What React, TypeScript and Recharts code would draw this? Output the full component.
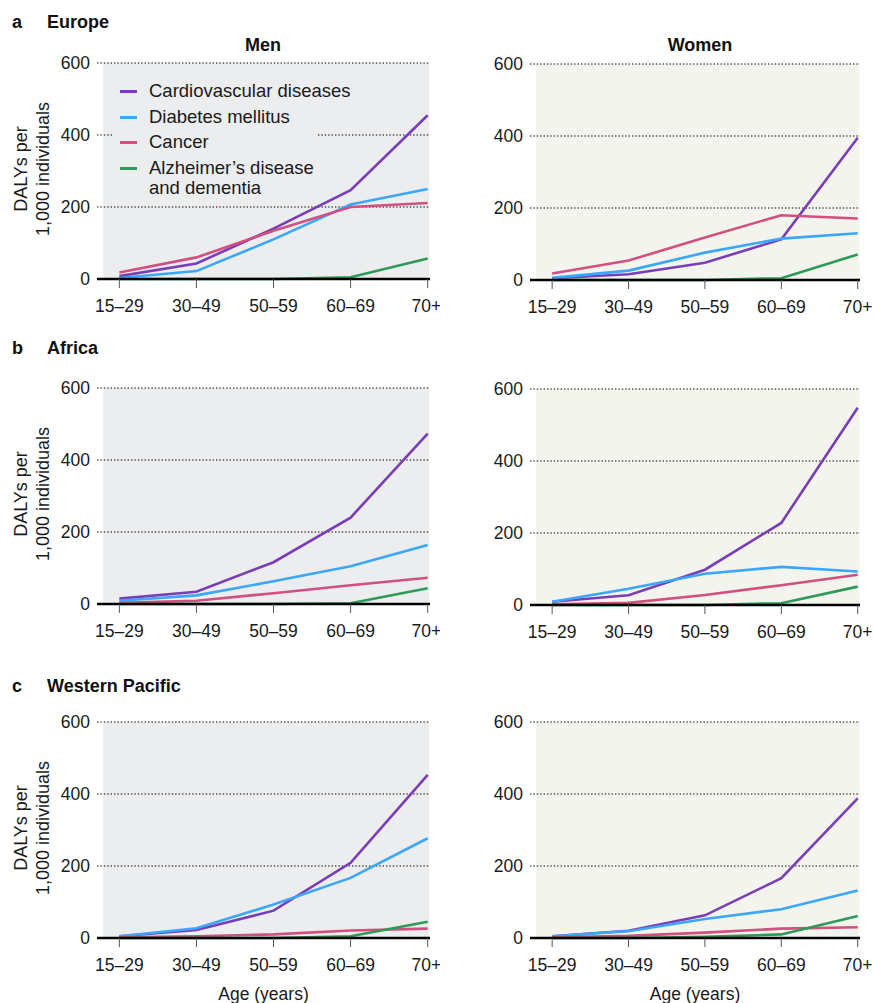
import React from 'react'
import {
  LineChart,
  Line,
  XAxis,
  YAxis,
  ReferenceArea,
  ReferenceLine,
  Legend,
} from 'recharts'

const ageGroups = ['15–29', '30–49', '50–59', '60–69', '70+']
const yTicks = [0, 200, 400, 600]
const gridValues = [200, 400, 600]

// DALYs per 1,000 individuals
const europeMen = {
  cvd: [8, 43, 140, 247, 455],
  diabetes: [3, 22, 110, 207, 250],
  cancer: [18, 60, 134, 200, 211],
  alz: [0, 0, 0, 5, 57],
}
const europeWomen = {
  cvd: [5, 16, 48, 113, 395],
  diabetes: [6, 26, 76, 115, 130],
  cancer: [18, 54, 118, 180, 171],
  alz: [0, 0, 0, 5, 71],
}
const africaMen = {
  cvd: [15, 34, 116, 240, 473],
  diabetes: [9, 24, 63, 105, 164],
  cancer: [3, 9, 30, 52, 73],
  alz: [0, 0, 0, 2, 44],
}
const africaWomen = {
  cvd: [9, 27, 98, 228, 548],
  diabetes: [9, 45, 87, 106, 93],
  cancer: [2, 6, 28, 55, 84],
  alz: [0, 0, 0, 5, 51],
}
const pacificMen = {
  cvd: [5, 22, 76, 209, 453],
  diabetes: [5, 27, 93, 167, 277],
  cancer: [2, 5, 10, 21, 26],
  alz: [0, 0, 0, 5, 45],
}
const pacificWomen = {
  cvd: [5, 20, 63, 166, 388],
  diabetes: [5, 19, 53, 80, 132],
  cancer: [2, 6, 15, 26, 30],
  alz: [0, 0, 3, 10, 61],
}

const series = [
  { key: 'cvd', name: 'Cardiovascular diseases', color: '#7a3db8' },
  { key: 'diabetes', name: 'Diabetes mellitus', color: '#3ba7fa' },
  { key: 'cancer', name: 'Cancer', color: '#d24f7e' },
  { key: 'alz', name: 'Alzheimer’s disease\nand dementia', color: '#2d9a58' },
]

const FONT = '"Liberation Sans", Arial, Helvetica, sans-serif'
const MEN_BG = '#ecedef'
const WOMEN_BG = '#f4f4ee'

type SeriesSet = { cvd: number[]; diabetes: number[]; cancer: number[]; alz: number[] }

const toRows = (s: SeriesSet) =>
  ageGroups.map((age, i) => ({
    x: i,
    age,
    cvd: s.cvd[i],
    diabetes: s.diabetes[i],
    cancer: s.cancer[i],
    alz: s.alz[i],
  }))

const LegendBox = ({ bg }: { bg: string }) => (
  <div style={{ background: bg, width: 205, fontFamily: FONT, fontSize: 18.5, color: '#1a1a1a' }}>
    {series.map((s, i) => {
      const lines = s.name.split('\n')
      return (
        <div
          key={s.key}
          style={{
            display: 'flex',
            alignItems: 'flex-start',
            marginTop: i === 3 ? 3 : 0,
          }}
        >
          <div
            style={{
              width: 17,
              height: 3,
              background: s.color,
              marginLeft: 7,
              marginRight: 12,
              marginTop: lines.length > 1 ? 9 : 12,
              flexShrink: 0,
            }}
          />
          <div style={{ lineHeight: lines.length > 1 ? '20px' : '25.7px', whiteSpace: 'nowrap' }}>
            {lines.map((l) => (
              <div key={l}>{l}</div>
            ))}
          </div>
        </div>
      )
    })}
  </div>
)

const YLabel = ({ viewBox }: any) => {
  if (!viewBox) return null
  const cy = viewBox.y + viewBox.height / 2 - 2
  return (
    <g transform={`translate(26.5, ${cy}) rotate(-90)`}>
      <text textAnchor="middle" fontSize={18} fill="#1a1a1a" fontFamily={FONT}>
        <tspan x={0} y={0}>DALYs per</tspan>
        <tspan x={0} y={22}>1,000 individuals</tspan>
      </text>
    </g>
  )
}

interface PanelProps {
  data: SeriesSet
  left: number
  top: number
  width: number
  axisWidth: number
  rightMargin: number
  bg: string
  legend?: boolean
  yLabel?: boolean
  xLabel?: boolean
}

function Panel({ data, left, top, width, axisWidth, rightMargin, bg, legend, yLabel, xLabel }: PanelProps) {
  const xAxisHeight = xLabel ? 66 : 50
  const height = 20 + 216 + xAxisHeight
  return (
    <div style={{ position: 'absolute', left, top: top - 20, width, height }}>
      <LineChart
        width={width}
        height={height}
        data={toRows(data)}
        margin={{ top: 20, right: rightMargin, bottom: 0, left: 0 }}
      >
        <ReferenceArea
          x1={-0.21}
          x2={4.02}
          y1={0}
          y2={600}
          fill={bg}
          fillOpacity={1}
          stroke="none"
          ifOverflow="visible"
        />
        {gridValues.map((v) => (
          <ReferenceLine
            key={v}
            y={v}
            stroke="#000"
            strokeDasharray="1.4 2"
            strokeWidth={1.1}
          />
        ))}
        <XAxis
          dataKey="x"
          type="number"
          domain={[-0.29, 4.03]}
          ticks={[0, 1, 2, 3, 4]}
          tickFormatter={(i) => ageGroups[i]}
          height={xAxisHeight}
          axisLine={{ stroke: '#000', strokeWidth: 2.6 }}
          tickLine={{ stroke: '#555' }}
          tickSize={9}
          tickMargin={12}
          tick={{ fill: '#1a1a1a', fontSize: 17.5, fontFamily: FONT }}
          allowDataOverflow
          label={
            xLabel
              ? { value: 'Age (years)', position: 'insideBottom', offset: 4, fill: '#1a1a1a', fontSize: 17.5, fontFamily: FONT }
              : undefined
          }
        />
        <YAxis
          domain={[0, 600]}
          ticks={yTicks}
          width={axisWidth}
          axisLine={false}
          tickLine={false}
          tickSize={0}
          tickMargin={7}
          tick={{ fill: '#1a1a1a', fontSize: 17.5, fontFamily: FONT }}
          label={yLabel ? <YLabel /> : undefined}
        />
        {legend && (
          <Legend
            layout="vertical"
            align="center"
            verticalAlign="middle"
            wrapperStyle={{ left: 113, top: 35, width: 205 }}
            content={() => <LegendBox bg={bg} />}
          />
        )}
        {series.map((s) => (
          <Line
            key={s.key}
            type="linear"
            dataKey={s.key}
            name={s.name}
            stroke={s.color}
            strokeWidth={2.6}
            dot={false}
            activeDot={false}
            isAnimationActive={false}
          />
        ))}
      </LineChart>
    </div>
  )
}

const Heading = ({ letter, title, top }: { letter: string; title: string; top: number }) => (
  <div style={{ position: 'absolute', left: 0, top, fontFamily: FONT, fontWeight: 700, fontSize: 18, color: '#111', lineHeight: '20px' }}>
    <span style={{ position: 'absolute', left: 12 }}>{letter}</span>
    <span style={{ position: 'absolute', left: 47, whiteSpace: 'nowrap' }}>{title}</span>
  </div>
)

const SexTitle = ({ text, center }: { text: string; center: number }) => (
  <div
    style={{
      position: 'absolute',
      left: center - 60,
      width: 120,
      top: 35,
      textAlign: 'center',
      fontFamily: FONT,
      fontWeight: 700,
      fontSize: 18,
      lineHeight: '20px',
      color: '#111',
    }}
  >
    {text}
  </div>
)

export default function App() {
  return (
    <div style={{ position: 'absolute', left: 0, top: 0, width: 874, height: 1003, background: '#fff', overflow: 'hidden' }}>
      <Heading letter="a" title="Europe" top={12} />
      <SexTitle text="Men" center={263} />
      <SexTitle text="Women" center={700} />
      <Panel data={europeMen} left={0} top={63} width={440} axisWidth={97} rightMargin={10} bg={MEN_BG} legend yLabel />
      <Panel data={europeWomen} left={440} top={64} width={434} axisWidth={90} rightMargin={14} bg={WOMEN_BG} />

      <Heading letter="b" title="Africa" top={338} />
      <Panel data={africaMen} left={0} top={388} width={440} axisWidth={97} rightMargin={10} bg={MEN_BG} yLabel />
      <Panel data={africaWomen} left={440} top={389} width={434} axisWidth={90} rightMargin={14} bg={WOMEN_BG} />

      <Heading letter="c" title="Western Pacific" top={676} />
      <Panel data={pacificMen} left={0} top={722} width={440} axisWidth={97} rightMargin={10} bg={MEN_BG} yLabel xLabel />
      <Panel data={pacificWomen} left={440} top={722} width={434} axisWidth={90} rightMargin={14} bg={WOMEN_BG} xLabel />
    </div>
  )
}
